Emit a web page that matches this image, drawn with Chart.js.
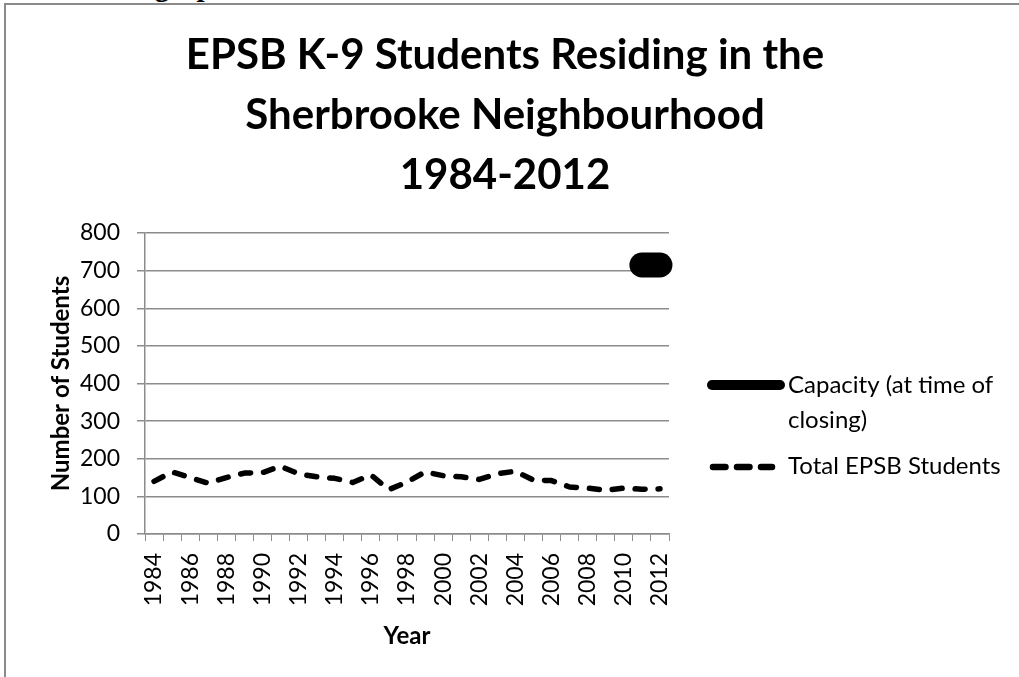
<!DOCTYPE html>
<html>
<head>
<meta charset="utf-8">
<title>EPSB K-9 Students Residing in the Sherbrooke Neighbourhood</title>
<script src="https://cdn.jsdelivr.net/npm/chart.js@4.4.0/dist/chart.umd.min.js"></script>
<style>
  html, body { margin: 0; padding: 0; background: #fff; overflow: hidden; }
  #wrap { position: relative; width: 1019px; height: 677px; overflow: hidden; }
  #frame { position: absolute; left: 4px; top: 3px; width: 1100px; height: 700px;
           border-top: 2px solid #8a8a8a; border-left: 2px solid #8a8a8a; }
  #cut { position: absolute; left: 91px; top: -30px; line-height: 30px;
         font: bold 29px "Liberation Serif", serif; color: #000; white-space: nowrap; }
  #chart { position: absolute; left: 0; top: 0; }
</style>
</head>
<body>
<div id="wrap">
  <div id="cut">Line graph</div>
  <div id="frame"></div>
  <canvas id="chart" width="1019" height="677"></canvas>
</div>
<script>
// Chart data
const years = ["1984", "1985", "1986", "1987", "1988", "1989", "1990", "1991", "1992", "1993",
  "1994", "1995", "1996", "1997", "1998", "1999", "2000", "2001", "2002", "2003",
  "2004", "2005", "2006", "2007", "2008", "2009", "2010", "2011", "2012"];
const totalStudents = [140, 165, 150, 135, 150, 162, 163, 180, 160, 152,
  148, 137, 157, 118, 138, 165, 155, 152, 145, 160,
  167, 143, 142, 125, 122, 116, 122, 119, 120];
const capacity = [null, null, null, null, null, null, null, null, null, null,
  null, null, null, null, null, null, null, null, null, null,
  null, null, null, null, null, null, null, 715, 715];
const titleLines = ["EPSB K-9 Students Residing in the", "Sherbrooke Neighbourhood", "1984-2012"];
const seriesNames = ["Capacity (at time of closing)", "Total EPSB Students"];

const FONT = "Lato, 'Open Sans', sans-serif";
const GRID = "#8c8c8c";

// Title and the wrapped legend are drawn by hand, Excel style
const excelText = {
  id: "excelText",
  afterDraw(chart) {
    const ctx = chart.ctx;
    ctx.save();
    ctx.fillStyle = "#000";
    ctx.textAlign = "center";
    ctx.textBaseline = "alphabetic";
    ctx.font = "bold 42px " + FONT;
    titleLines.forEach((line, i) => ctx.fillText(line, 505, 69 + i * 60));

    // legend: capacity sample
    ctx.strokeStyle = "#000";
    ctx.lineCap = "round";
    ctx.lineWidth = 10;
    ctx.beginPath();
    ctx.moveTo(712, 385);
    ctx.lineTo(780, 385);
    ctx.stroke();
    // legend: dashed sample
    ctx.lineWidth = 6.5;
    ctx.setLineDash([12.5, 11.5]);
    ctx.beginPath();
    ctx.moveTo(713, 467);
    ctx.lineTo(772, 467);
    ctx.stroke();
    ctx.setLineDash([]);

    ctx.textAlign = "left";
    ctx.textBaseline = "middle";
    ctx.font = "24px " + FONT;
    ctx.fillText("Capacity (at time of", 788, 385);
    ctx.fillText("closing)", 788, 420);
    ctx.fillText(seriesNames[1], 788, 466);
    ctx.restore();
  }
};

const ctx = document.getElementById("chart").getContext("2d");
new Chart(ctx, {
  type: "line",
  data: {
    labels: years,
    datasets: [
      {
        label: seriesNames[0],
        data: capacity,
        borderColor: "#000",
        backgroundColor: "#000",
        borderWidth: 25,
        borderCapStyle: "round",
        borderJoinStyle: "round",
        pointRadius: 0,
        tension: 0,
      },
      {
        label: seriesNames[1],
        data: totalStudents,
        borderColor: "#000",
        backgroundColor: "#000",
        borderWidth: 5.5,
        borderDash: [10, 13],
        borderCapStyle: "round",
        borderJoinStyle: "round",
        pointRadius: 0,
        tension: 0,
      },
    ],
  },
  options: {
    responsive: false,
    animation: false,
    layout: { padding: { top: 233, right: 350, bottom: 0, left: 5 } },
    plugins: {
      legend: { display: false },
      title: { display: false },
      tooltip: { enabled: false },
    },
    scales: {
      x: {
        offset: true,
        afterFit: (scale) => { scale.height = 143; },
        grid: {
          offset: true,
          drawOnChartArea: false,
          drawTicks: true,
          tickLength: 7,
          color: GRID,
          tickColor: GRID,
        },
        border: { display: true, color: GRID, width: 1.5 },
        ticks: {
          autoSkip: false,
          maxRotation: 90,
          minRotation: 90,
          padding: 12,
          color: "#000",
          font: { family: FONT, size: 23 },
          callback: function (value, index) {
            return index % 2 === 0 ? this.getLabelForValue(value) : "";
          },
        },
        title: {
          display: true,
          text: "Year",
          color: "#000",
          font: { family: FONT, size: 24, weight: "bold" },
          padding: { top: 0, bottom: 26 },
        },
      },
      y: {
        min: 0,
        max: 800,
        afterFit: (scale) => { scale.width = 140; },
        grid: {
          color: GRID,
          lineWidth: 1.5,
          drawTicks: true,
          tickLength: 8,
          tickColor: GRID,
        },
        border: { display: true, color: GRID, width: 1.5 },
        ticks: {
          stepSize: 100,
          padding: 17,
          color: "#000",
          font: { family: FONT, size: 23 },
        },
        title: {
          display: true,
          text: "Number of Students",
          color: "#000",
          font: { family: FONT, size: 24, weight: "bold" },
          padding: { top: 42, bottom: 0 },
        },
      },
    },
  },
  plugins: [excelText],
});
</script>
</body>
</html>
